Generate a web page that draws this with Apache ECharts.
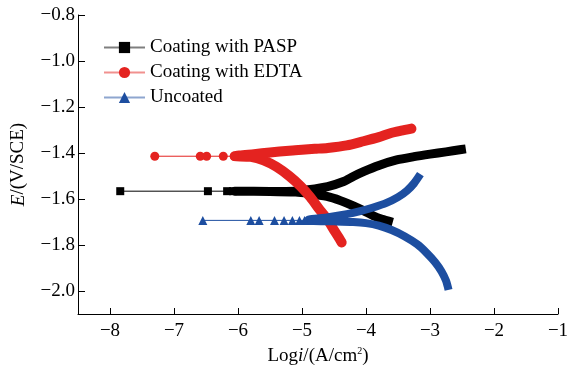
<!DOCTYPE html>
<html>
<head>
<meta charset="utf-8">
<script src="https://cdn.jsdelivr.net/npm/echarts@6/dist/echarts.min.js"></script>
<style>
  html, body { margin: 0; padding: 0; background: #fff; }
  #chart { width: 570px; height: 365px; }
</style>
</head>
<body>
<div id="chart"></div>
<script>
// --- valeurs : [log i, E] --- //
const names = ['Coating with PASP', 'Coating with EDTA', 'Uncoated'];
const colors = ['#000000', '#e42320', '#1d4ea0'];

// points isolés près du potentiel de corrosion
const paspSpike = [[-6.08, -1.566], [-6.17, -1.566], [-6.47, -1.566], [-7.84, -1.566]];
const edtaSpike = [[-6.06, -1.414], [-6.23, -1.414], [-6.49, -1.414], [-6.59, -1.414], [-7.30, -1.414]];
const bareSpike = [[-4.88, -1.693], [-4.96, -1.693], [-5.04, -1.693], [-5.15, -1.693], [-5.28, -1.693],
  [-5.43, -1.693], [-5.67, -1.693], [-5.80, -1.693], [-6.55, -1.693]];

// branche cathodique (de l'extrémité vers Ecorr) puis branche anodique
const paspCurve = [[-3.65, -1.696], [-3.75, -1.688], [-3.88, -1.674], [-4.0, -1.656], [-4.19, -1.631],
  [-4.4, -1.607], [-4.61, -1.589], [-4.9, -1.576], [-5.1, -1.570], [-5.5, -1.567], [-6.05, -1.566],
  [-5.5, -1.567], [-5.1, -1.566], [-4.9, -1.560], [-4.6, -1.546], [-4.35, -1.524], [-4.2, -1.502],
  [-4.04, -1.481], [-3.8, -1.454], [-3.52, -1.430], [-3.25, -1.416], [-3.0, -1.405], [-2.75, -1.395],
  [-2.51, -1.385]];
const edtaCurve = [[-4.38, -1.789], [-4.42, -1.770], [-4.50, -1.735], [-4.60, -1.690], [-4.72, -1.648],
  [-4.87, -1.592], [-5.02, -1.545], [-5.2, -1.500], [-5.4, -1.460], [-5.6, -1.432], [-5.8, -1.417],
  [-6.05, -1.414], [-5.75, -1.405], [-5.5, -1.398], [-5.2, -1.390], [-5.0, -1.386], [-4.8, -1.382],
  [-4.6, -1.378], [-4.3, -1.367], [-4.04, -1.349], [-3.8, -1.331], [-3.62, -1.314], [-3.45, -1.303],
  [-3.29, -1.294]];
const bareCurve = [[-2.71, -1.995], [-2.75, -1.955], [-2.82, -1.915], [-2.92, -1.875], [-3.05, -1.835],
  [-3.2, -1.797], [-3.4, -1.762], [-3.6, -1.735], [-3.8, -1.716], [-4.0, -1.705], [-4.2, -1.700],
  [-4.5, -1.697], [-4.9, -1.694], [-4.9, -1.690], [-4.61, -1.680], [-4.3, -1.666], [-4.09, -1.653],
  [-3.9, -1.638], [-3.68, -1.617], [-3.5, -1.592], [-3.36, -1.564], [-3.25, -1.532], [-3.15, -1.492]];

const xTicks = [-8, -7, -6, -5, -4, -3, -2, -1];
const yTicks = [-2.0, -1.8, -1.6, -1.4, -1.2, -1.0, -0.8];

const font = 'Liberation Serif';
const minus = (s) => s.replace('-', '\u2212');

function thin(i, data, symbol, size) {
  return {
    name: names[i], type: 'line', data: data,
    symbol: symbol, symbolSize: size, showSymbol: true,
    lineStyle: { color: colors[i], width: 1 },
    itemStyle: { color: colors[i] },
    z: 3
  };
}
function thick(i, data, width, cap) {
  return {
    name: names[i], type: 'line', data: data, showSymbol: false, symbol: 'none',
    smooth: 0.25,
    lineStyle: { color: colors[i], width: width, cap: cap, join: 'round' },
    itemStyle: { color: colors[i] },
    z: 2
  };
}

const option = {
  animation: false,
  backgroundColor: '#fff',
  grid: { left: 78, right: 12, top: 15, bottom: 51, containLabel: false, outerBoundsMode: 'none' },
  legend: {
    data: names, orient: 'vertical', left: 103, top: 38, padding: 0,
    itemWidth: 41, itemHeight: 14, itemGap: 6,
    lineStyle: { width: 2, opacity: 0.5 },
    textStyle: { fontFamily: font, fontSize: 19, color: '#000' }
  },
  xAxis: {
    type: 'value', min: -8.5, max: -1,
    name: 'Log{i|i}/(A/cm{s|2})', nameLocation: 'middle', nameGap: 28,
    nameTextStyle: {
      fontFamily: font, fontSize: 19, color: '#000',
      rich: { i: { fontFamily: font, fontSize: 19, fontStyle: 'italic' },
              s: { fontFamily: font, fontSize: 10, padding: [0, 0, 10, 0] } }
    },
    axisLine: { lineStyle: { color: '#000', width: 1 } },
    axisTick: { inside: true, length: 6, customValues: xTicks, lineStyle: { color: '#000' } },
    axisLabel: { customValues: xTicks, margin: 8, fontFamily: font, fontSize: 19, color: '#000',
      formatter: (v) => minus(String(v)) },
    splitLine: { show: false }
  },
  yAxis: {
    type: 'value', min: -2.1, max: -0.8,
    name: '{i|E}/(V/SCE)', nameLocation: 'middle', nameGap: 50, nameRotate: 90,
    nameTextStyle: {
      fontFamily: font, fontSize: 19, color: '#000',
      rich: { i: { fontFamily: font, fontSize: 19, fontStyle: 'italic' } }
    },
    axisLine: { lineStyle: { color: '#000', width: 1 } },
    axisTick: { inside: true, length: 7, customValues: yTicks, lineStyle: { color: '#000' } },
    axisLabel: { customValues: yTicks, margin: 3, fontFamily: font, fontSize: 19, color: '#000',
      formatter: (v) => minus(v.toFixed(1)) },
    splitLine: { show: false }
  },
  series: [
    thin(0, paspSpike, 'rect', 8),
    thin(1, edtaSpike, 'circle', 9),
    thin(2, bareSpike, 'triangle', 9),
    thick(0, paspCurve, 9, 'square'),
    thick(1, edtaCurve, 10, 'round'),
    thick(2, bareCurve, 8, 'butt')
  ]
};

const echartsInstance = echarts.init(document.getElementById('chart'));
echartsInstance.setOption(option);
</script>
</body>
</html>
